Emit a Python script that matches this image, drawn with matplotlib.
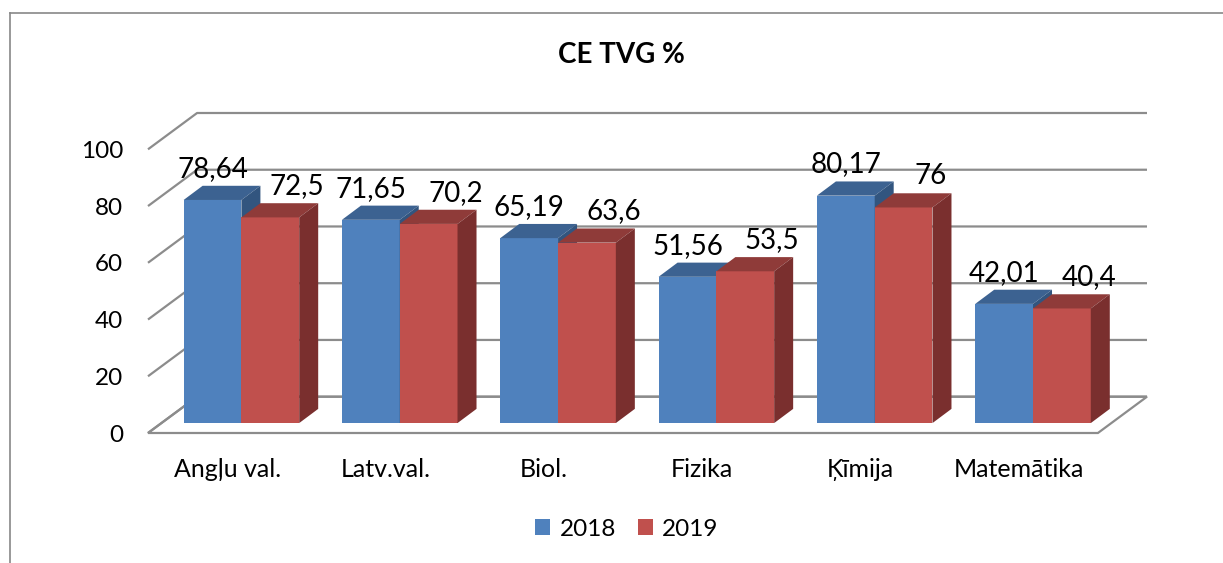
import matplotlib
matplotlib.use('Agg')
import matplotlib.pyplot as plt
from matplotlib.patches import Polygon
from matplotlib.lines import Line2D

categories = ['Angļu val.', 'Latv.val.', 'Biol.', 'Fizika', 'Ķīmija', 'Matemātika']
values_2018 = [78.64, 71.65, 65.19, 51.56, 80.17, 42.01]
values_2019 = [72.5, 70.2, 63.6, 53.5, 76, 40.4]
labels_2018 = ['78,64', '71,65', '65,19', '51,56', '80,17', '42,01']
labels_2019 = ['72,5', '70,2', '63,6', '53,5', '76', '40,4']
series_names = ['2018', '2019']
yticks = [0, 20, 40, 60, 80, 100]
title = 'CE TVG %'

plt.rcParams['font.family'] = ['Lato', 'DejaVu Sans']

W, H = 1223, 563
fig = plt.figure(figsize=(W / 100, H / 100), dpi=100)

x0px, x1px, y0px, y1px = 148, 1147, 433, 113
ax = fig.add_axes([x0px / W, 1 - y0px / H, (x1px - x0px) / W, (y0px - y1px) / H])
n = len(categories)
DX, DY = 0.31, 12.8          # floor depth (projection offset)
ax.set_xlim(-0.5, n - 0.5 + DX)
ax.set_ylim(0, 100 + DY)
for s in ax.spines.values():
    s.set_visible(False)

grid_color = '#8c8c8c'
# floor
floor = Polygon([(-0.5, 0), (n - 0.5, 0), (n - 0.5 + DX, DY), (-0.5 + DX, DY)],
                closed=True, facecolor='white', edgecolor=grid_color, lw=1.6,
                zorder=1, clip_on=False)
ax.add_patch(floor)
# gridlines (side wall diagonal + back wall)
for v in yticks:
    ax.plot([-0.5, -0.5 + DX, n - 0.5 + DX], [v, v + DY, v + DY],
            color=grid_color, lw=1.6, zorder=1.5, clip_on=False,
            solid_capstyle='butt')

front_colors = ['#4f81bd', '#c0504d']
top_colors = ['#3c6291', '#8f3b39']
side_colors = ['#32557f', '#7a2f2e']
series_vals = [values_2018, values_2019]
series_labels = [labels_2018, labels_2019]

w = 0.365
FOX, FOY = 0.09, 3.5       # bar front-face offset into depth
BDX, BDY = 0.12, 5.0       # bar depth
label_shift = [0.0, 0.17]

handles = []
for s in range(2):
    xl = [i - w + s * w + FOX for i in range(n)]
    bars = ax.bar(xl, series_vals[s], width=w, bottom=FOY, align='edge',
                  color=front_colors[s], zorder=3 + s, clip_on=False,
                  label=series_names[s])
    handles.append(bars)
    for i, rect in enumerate(bars):
        x = rect.get_x()
        yb = rect.get_y()
        yt = yb + rect.get_height()
        top = Polygon([(x, yt), (x + w, yt), (x + w + BDX, yt + BDY), (x + BDX, yt + BDY)],
                      closed=True, facecolor=top_colors[s], edgecolor='none',
                      zorder=3 + s, clip_on=False)
        side = Polygon([(x + w, yb), (x + w + BDX, yb + BDY), (x + w + BDX, yt + BDY), (x + w, yt)],
                       closed=True, facecolor=side_colors[s], edgecolor='none',
                       zorder=3 + s, clip_on=False)
        ax.add_patch(top)
        ax.add_patch(side)
        ax.text(x + w / 2 + label_shift[s], yt + 11, series_labels[s][i],
                ha='center', va='center', fontsize=20, color='black', zorder=10)

ax.set_yticks(yticks)
ax.set_yticklabels([str(v) for v in yticks])
ax.set_xticks(range(n))
ax.set_xticklabels(categories)
ax.tick_params(axis='y', length=0, pad=18, labelsize=17.5)
ax.tick_params(axis='x', length=0, pad=18, labelsize=18)

fig.text(621 / W, 1 - 55 / H, title, ha='center', va='center',
         fontsize=20, fontweight='bold')

leg = fig.legend(handles=handles, labels=series_names, loc='center',
                 bbox_to_anchor=(627 / W, 1 - 529 / H), ncol=2, frameon=False,
                 fontsize=17.5, handlelength=0.6, handleheight=0.6,
                 handletextpad=0.4, columnspacing=0.9)

# chart border (top and left visible)
fig.add_artist(Line2D([10 / W, 1], [1 - 13 / H, 1 - 13 / H], color='#888888', lw=1.2))
fig.add_artist(Line2D([10 / W, 10 / W], [0, 1 - 13 / H], color='#888888', lw=1.2))

fig.savefig('out.png', dpi=100)
